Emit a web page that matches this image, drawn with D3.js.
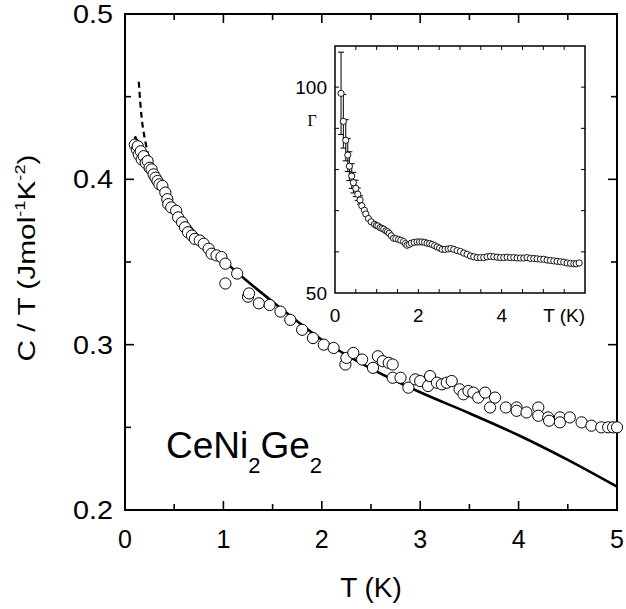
<!DOCTYPE html>
<html>
<head>
<meta charset="utf-8">
<script src="https://cdn.jsdelivr.net/npm/d3@7"></script>
<style>
  body { margin: 0; background: #fff; }
  text { font-family: "Liberation Sans", Arial, sans-serif; fill: #000; }
</style>
</head>
<body>
<div id="chart"></div>
<script>
// main panel: C/T vs T
const mainT = [0.10,0.12,0.13,0.14,0.16,0.17,0.19,0.21,0.23,0.25,0.27,0.29,0.31,0.33,0.35,0.38,0.41,0.43,0.44,0.47,
  0.52,0.54,0.58,0.61,0.64,0.68,0.71,0.76,0.80,0.85,0.88,0.93,0.98,1.02,1.02,1.14,1.25,1.26,1.36,1.47,
  1.58,1.68,1.80,1.91,2.02,2.12,2.24,2.25,2.32,2.41,2.52,2.57,2.62,2.68,2.72,2.72,2.80,2.88,2.95,3.00,
  3.08,3.10,3.17,3.22,3.27,3.32,3.40,3.44,3.49,3.54,3.59,3.66,3.71,3.76,3.87,3.98,3.98,4.08,4.20,4.20,
  4.30,4.31,4.42,4.42,4.52,4.64,4.74,4.84,4.91,4.96,5.00];
const mainC = [0.421,0.418,0.420,0.415,0.417,0.412,0.414,0.410,0.411,0.407,0.406,0.403,0.401,0.399,0.397,0.396,0.392,0.388,0.385,0.383,
  0.381,0.377,0.374,0.371,0.368,0.366,0.364,0.363,0.361,0.358,0.355,0.354,0.353,0.349,0.337,0.343,0.329,0.331,0.325,0.324,
  0.320,0.315,0.309,0.304,0.300,0.298,0.288,0.292,0.295,0.291,0.286,0.293,0.290,0.289,0.288,0.280,0.280,0.274,0.279,0.278,
  0.275,0.281,0.277,0.276,0.277,0.278,0.273,0.270,0.272,0.271,0.268,0.271,0.262,0.268,0.262,0.262,0.260,0.259,0.262,0.257,
  0.256,0.254,0.256,0.253,0.256,0.253,0.251,0.250,0.250,0.250,0.250];

// solid fit line
const fitT = [0.10,0.30,0.50,0.75,1.00,1.25,1.50,2.00,2.50,3.00,3.50,4.00,4.50,5.00];
const fitC = [0.426,0.402,0.384,0.365,0.351,0.338,0.326,0.303,0.2855,0.2712,0.2585,0.2452,0.2303,0.2141];

// dashed fit line at lowest T
const dashT = [0.14,0.16,0.18,0.20,0.22,0.24,0.26];
const dashC = [0.459,0.443,0.432,0.425,0.419,0.414,0.410];

// inset: Gruneisen parameter
const insetT = [0.145,0.20,0.258,0.306,0.345,0.402,0.441,0.499,0.547,0.602,0.643,0.706,0.740,0.802,0.867,
  0.947,0.99,1.03,1.08,1.125,1.17,1.22,1.26,1.30,1.35,1.405,1.46,1.525,1.58,1.646,1.69,1.728,1.78,1.831,1.90,
  1.969,2.03,2.089,2.15,2.21,2.27,2.33,2.39,2.451,2.51,2.571,2.64,2.716,2.78,2.851,2.93,3.01,3.09,3.17,3.25,
  3.33,3.41,3.49,3.57,3.65,3.73,3.81,3.89,3.97,4.05,4.13,4.21,4.29,4.37,4.45,4.53,4.61,4.69,4.77,4.85,
  4.93,5.01,5.09,5.17,5.25,5.33,5.41,5.49,5.57,5.65,5.73,5.79,5.86];
const insetG = [98.5,91.7,87.1,83.5,80.8,78.4,76.8,75.4,74.0,72.6,71.2,70.1,69.2,68.1,67.3,
  66.7,66.4,66.3,65.9,65.7,65.5,65.1,64.9,64.5,63.9,63.3,63.2,63.0,62.8,62.5,62.0,61.6,61.8,62.1,62.3,
  62.4,62.4,62.4,62.3,62.1,62.0,61.8,61.5,61.2,60.9,60.6,60.6,60.7,60.8,60.6,60.3,60.1,59.7,59.4,59.0,
  58.8,58.6,58.6,58.6,58.8,58.9,58.8,58.7,58.6,58.6,58.7,58.6,58.6,58.5,58.5,58.5,58.6,58.4,58.4,58.3,
  58.2,58.2,58.0,57.9,57.8,57.7,57.6,57.5,57.3,57.2,57.1,57.1,57.3];
const insetErr = [10,6.5,5,4,3.5,3,2.5,2,1.5,1];

const mainXLabels = [0,1,2,3,4,5];
const mainYLabels = [0.2,0.3,0.4,0.5];
const insetXLabels = [0,2,4];
const insetYLabels = [50,100];

function drawChart(){

    const width = 626;
    const height = 609;

    const svg =
        d3.select("#chart")
          .append("svg")
          .attr("width", width)
          .attr("height", height);

    const x = d3.scaleLinear().domain([0, 5]).range([125, 617]);
    const y = d3.scaleLinear().domain([0.2, 0.5]).range([510, 14]);

    // ticks on all four sides, inward
    const xMaj = d3.range(0, 5.01, 1), xMin = d3.range(0.5, 5, 1);
    const yMaj = d3.range(0.2, 0.501, 0.1), yMin = d3.range(0.25, 0.5, 0.1);

    const frame = svg.append("g").attr("stroke", "#000").attr("fill", "none");

    const tickLines = (g, vals, len, side, sc) => {
        vals.forEach(v => {
            if (side === "b") g.append("line").attr("x1", sc(v)).attr("x2", sc(v)).attr("y1", 510).attr("y2", 510 - len);
            if (side === "t") g.append("line").attr("x1", sc(v)).attr("x2", sc(v)).attr("y1", 14).attr("y2", 14 + len);
            if (side === "l") g.append("line").attr("x1", 125).attr("x2", 125 + len).attr("y1", sc(v)).attr("y2", sc(v));
            if (side === "r") g.append("line").attr("x1", 617).attr("x2", 617 - len).attr("y1", sc(v)).attr("y2", sc(v));
        });
    };

    const ticks = frame.append("g").attr("stroke-width", 1.6);
    tickLines(ticks, xMaj, 9, "b", x); tickLines(ticks, xMin, 6, "b", x);
    tickLines(ticks, xMaj, 9, "t", x); tickLines(ticks, xMin, 6, "t", x);
    tickLines(ticks, yMaj, 9, "l", y); tickLines(ticks, yMin, 6, "l", y);
    tickLines(ticks, yMaj, 9, "r", y); tickLines(ticks, yMin, 6, "r", y);

    frame.append("rect")
         .attr("x", 125).attr("y", 14)
         .attr("width", 492).attr("height", 496)
         .attr("stroke-width", 2);

    svg.selectAll(".xlab")
       .data(mainXLabels)
       .enter()
       .append("text")
       .attr("x", d => x(d))
       .attr("y", 548)
       .attr("text-anchor", "middle")
       .attr("font-size", 25)
       .text(d => d);

    svg.selectAll(".ylab")
       .data(mainYLabels)
       .enter()
       .append("text")
       .attr("x", 113)
       .attr("y", d => y(d) + 9)
       .attr("text-anchor", "end")
       .attr("font-size", 25)
       .attr("textLength", 40)
       .attr("lengthAdjust", "spacingAndGlyphs")
       .text(d => d.toFixed(1));

    svg.append("text")
       .attr("x", 371).attr("y", 597)
       .attr("text-anchor", "middle")
       .attr("font-size", 28)
       .text("T (K)");

    const yl = svg.append("text")
       .attr("transform", "translate(35,258) rotate(-90)")
       .attr("text-anchor", "middle")
       .attr("font-size", 23)
       .attr("textLength", 207)
       .attr("lengthAdjust", "spacingAndGlyphs");
    yl.append("tspan").text("C / T (Jmol");
    yl.append("tspan").attr("font-size", 14).attr("dy", -10).text("-1");
    yl.append("tspan").attr("dy", 10).text("K");
    yl.append("tspan").attr("font-size", 14).attr("dy", -10).text("-2");
    yl.append("tspan").attr("dy", 10).text(")");

    const lab = svg.append("text")
       .attr("x", 166).attr("y", 458)
       .attr("font-size", 37);
    lab.append("tspan").text("CeNi");
    lab.append("tspan").attr("font-size", 22).attr("dy", 15).text("2");
    lab.append("tspan").attr("dy", -15).text("Ge");
    lab.append("tspan").attr("font-size", 22).attr("dy", 15).text("2");

    // fit curves
    const fitLine = d3.line().x(d => x(d[0])).y(d => y(d[1])).curve(d3.curveCatmullRom.alpha(0.5));

    svg.append("path")
       .datum(fitT.map((t, i) => [t, fitC[i]]))
       .attr("d", fitLine)
       .attr("fill", "none")
       .attr("stroke", "#000")
       .attr("stroke-width", 2.6);

    svg.append("path")
       .datum(dashT.map((t, i) => [t, dashC[i]]))
       .attr("d", fitLine)
       .attr("fill", "none")
       .attr("stroke", "#000")
       .attr("stroke-width", 2.2)
       .attr("stroke-dasharray", "6,4");

    svg.append("g")
       .selectAll("circle")
       .data(mainT.map((t, i) => [t, mainC[i]]))
       .enter()
       .append("circle")
       .attr("cx", d => x(d[0]))
       .attr("cy", d => y(d[1]))
       .attr("r", 5.6)
       .attr("fill", "#fff")
       .attr("stroke", "#000")
       .attr("stroke-width", 1);

    // inset
    const ix = d3.scaleLinear().domain([0, 6]).range([335, 585]);
    const iy = d3.scaleLinear().domain([50, 110]).range([293, 46]);

    const inset = svg.append("g");

    inset.append("rect")
         .attr("x", 335).attr("y", 46)
         .attr("width", 250).attr("height", 247)
         .attr("fill", "#fff");

    const it = inset.append("g").attr("stroke", "#000").attr("stroke-width", 1);
    d3.range(0.5, 6, 0.5).forEach(v => {
        it.append("line").attr("x1", ix(v)).attr("x2", ix(v)).attr("y1", 293).attr("y2", 289);
        it.append("line").attr("x1", ix(v)).attr("x2", ix(v)).attr("y1", 46).attr("y2", 50);
    });
    d3.range(60, 110, 10).forEach(v => {
        it.append("line").attr("x1", 335).attr("x2", 339).attr("y1", iy(v)).attr("y2", iy(v));
        it.append("line").attr("x1", 585).attr("x2", 581).attr("y1", iy(v)).attr("y2", iy(v));
    });

    inset.append("rect")
         .attr("x", 335).attr("y", 46)
         .attr("width", 250).attr("height", 247)
         .attr("fill", "none")
         .attr("stroke", "#000")
         .attr("stroke-width", 1.5);

    // error bars on lowest points
    const eb = inset.append("g").attr("stroke", "#000").attr("stroke-width", 1);
    insetErr.forEach((e, i) => {
        const cx = ix(insetT[i]);
        eb.append("line").attr("x1", cx).attr("x2", cx).attr("y1", iy(insetG[i] + e)).attr("y2", iy(insetG[i] - e));
        eb.append("line").attr("x1", cx - 3).attr("x2", cx + 3).attr("y1", iy(insetG[i] + e)).attr("y2", iy(insetG[i] + e));
        eb.append("line").attr("x1", cx - 3).attr("x2", cx + 3).attr("y1", iy(insetG[i] - e)).attr("y2", iy(insetG[i] - e));
    });

    inset.append("g")
         .selectAll("circle")
         .data(insetT.map((t, i) => [t, insetG[i]]))
         .enter()
         .append("circle")
         .attr("cx", d => ix(d[0]))
         .attr("cy", d => iy(d[1]))
         .attr("r", 3.1)
         .attr("fill", "#fff")
         .attr("stroke", "#000")
         .attr("stroke-width", 0.9);

    inset.selectAll(".ixl")
         .data(insetXLabels)
         .enter()
         .append("text")
         .attr("x", d => ix(d))
         .attr("y", 322)
         .attr("text-anchor", "middle")
         .attr("font-size", 19)
         .text(d => d);

    inset.selectAll(".iyl")
         .data(insetYLabels)
         .enter()
         .append("text")
         .attr("x", 327)
         .attr("y", d => iy(d) + 7)
         .attr("text-anchor", "end")
         .attr("font-size", 19)
         .text(d => d);

    inset.append("text")
         .attr("x", 585).attr("y", 322)
         .attr("text-anchor", "end")
         .attr("font-size", 19)
         .text("T (K)");

    inset.append("text")
         .attr("x", 312).attr("y", 126)
         .attr("text-anchor", "middle")
         .attr("font-size", 16)
         .style("font-family", "'Liberation Serif', 'Times New Roman', serif")
         .text("Γ");
}

drawChart();
</script>
</body>
</html>
